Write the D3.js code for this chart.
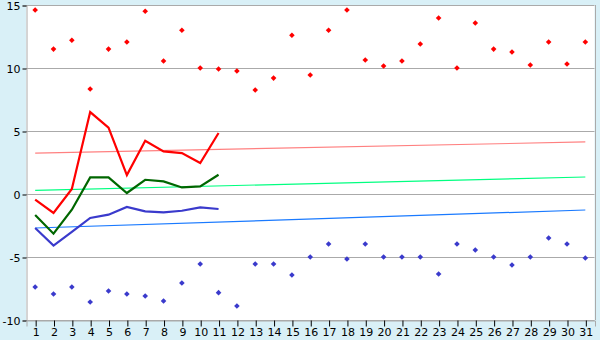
<!doctype html>
<html>
<head>
<meta charset="UTF-8">
<script src="https://d3js.org/d3.v7.min.js"></script>
<style>
body { margin: 0; background: #d9f0f7; }
svg { display: block; }
.tick text { font-family: "DejaVu Sans", Verdana, sans-serif; font-size: 11px; fill: #000; }
</style>
</head>
<body>
<script>
// days of month
var days = d3.range(1, 32);

// daily extremes (points)
var maxPts = [14.6, 11.5, 12.2, 8.33, 11.5, 12.06, 14.5, 10.55, 13.0, 10.0,
              9.92, 9.76, 8.25, 9.2, 12.6, 9.44, 13.0, 14.6, 10.63, 10.16,
              10.55, 11.9, 13.97, 10.0, 13.57, 11.5, 11.27, 10.24, 12.06, 10.32, 12.06];
var minPts = [-7.38, -7.94, -7.38, -8.57, -7.7, -7.94, -8.1, -8.49, -7.06, -5.56,
              -7.83, -8.89, -5.56, -5.56, -6.43, -5.0, -3.97, -5.16, -3.97, -5.0,
              -5.0, -5.0, -6.35, -3.97, -4.44, -5.0, -5.63, -5.0, -3.49, -3.97, -5.08];

// current month lines (days 1..11)
var maxLine = [-0.45, -1.5, 0.4, 6.5, 5.26, 1.5, 4.23, 3.38, 3.25, 2.46, 4.84];
var avgLine = [-1.67, -3.15, -1.25, 1.32, 1.32, 0.08, 1.13, 1.0, 0.52, 0.6, 1.53];
var minLine = [-2.7, -4.1, -3.0, -1.9, -1.64, -1.03, -1.38, -1.46, -1.33, -1.06, -1.19];

// normal trends (start day 1, end day 31)
var maxTrend = [3.25, 4.13];
var avgTrend = [0.29, 1.35];
var minTrend = [-2.7, -1.27];

var yTicks = [-10, -5, 0, 5, 10, 15];

var w = 600, h = 340;
var svg = d3.select("body").append("svg").attr("width", w).attr("height", h);

var x = d3.scaleLinear().domain([0.5, 31.5]).range([26, 594.5]);
var y = d3.scaleLinear().domain([-10, 15]).range([320, 5]);

// plot background
svg.append("rect")
   .attr("x", x(0.5)).attr("y", y(15))
   .attr("width", x(31.5) - x(0.5)).attr("height", y(-10) - y(15))
   .attr("fill", "#fff");

// grid
svg.append("g").selectAll("line")
   .data(yTicks)
   .enter().append("line")
   .attr("x1", x(0.5)).attr("x2", x(31.5))
   .attr("y1", function(d) { return Math.round(y(d)) + 0.5; })
   .attr("y2", function(d) { return Math.round(y(d)) + 0.5; })
   .attr("stroke", "#aaa");

svg.append("line")
   .attr("x1", Math.round(x(31.5)) + 0.5).attr("x2", Math.round(x(31.5)) + 0.5)
   .attr("y1", y(15)).attr("y2", y(-10))
   .attr("stroke", "#aaa");

// axes
var yAxis = svg.append("g")
   .attr("transform", "translate(" + (Math.round(x(0.5)) + 0.5) + ",0.5)")
   .call(d3.axisLeft(y).tickValues(yTicks).tickFormat(function(d) { return String(d); })
         .tickSize(4).tickPadding(2));
yAxis.select(".domain").attr("stroke", "#aaa");
yAxis.selectAll(".tick line").attr("stroke", "#000");

var xAxis = svg.append("g")
   .attr("transform", "translate(0.5," + (Math.round(y(-10)) + 0.5) + ")")
   .call(d3.axisBottom(x).tickValues(days).tickFormat(d3.format("d")).tickSize(6).tickPadding(2));
xAxis.select(".domain").attr("stroke", "#aaa");
xAxis.selectAll(".tick line").attr("stroke", "#000");

// trends
function trend(vals, color) {
  svg.append("line")
     .attr("x1", x(1)).attr("x2", x(31))
     .attr("y1", y(vals[0])).attr("y2", y(vals[1]))
     .attr("stroke", color).attr("stroke-width", 1.2);
}
trend(maxTrend, "#ff8080");
trend(avgTrend, "#00ff80");
trend(minTrend, "#1a7aff");

// lines
var line = d3.line()
   .x(function(d, i) { return x(days[i]); })
   .y(function(d) { return y(d); });

function drawLine(vals, color) {
  svg.append("path")
     .attr("d", line(vals))
     .attr("fill", "none")
     .attr("stroke", color)
     .attr("stroke-width", 2.2);
}
drawLine(maxLine, "#ff0000");
drawLine(avgLine, "#006600");
drawLine(minLine, "#3a3acc");

// points
var sym = d3.symbol().type(d3.symbolDiamond2).size(20);
function drawPts(vals, color) {
  svg.append("g").selectAll("path")
     .data(vals)
     .enter().append("path")
     .attr("d", sym)
     .attr("transform", function(d, i) { return "translate(" + x(days[i]) + "," + y(d) + ")"; })
     .attr("fill", color);
}
drawPts(maxPts, "#ff0000");
drawPts(minPts, "#3a3acc");
</script>
</body>
</html>
